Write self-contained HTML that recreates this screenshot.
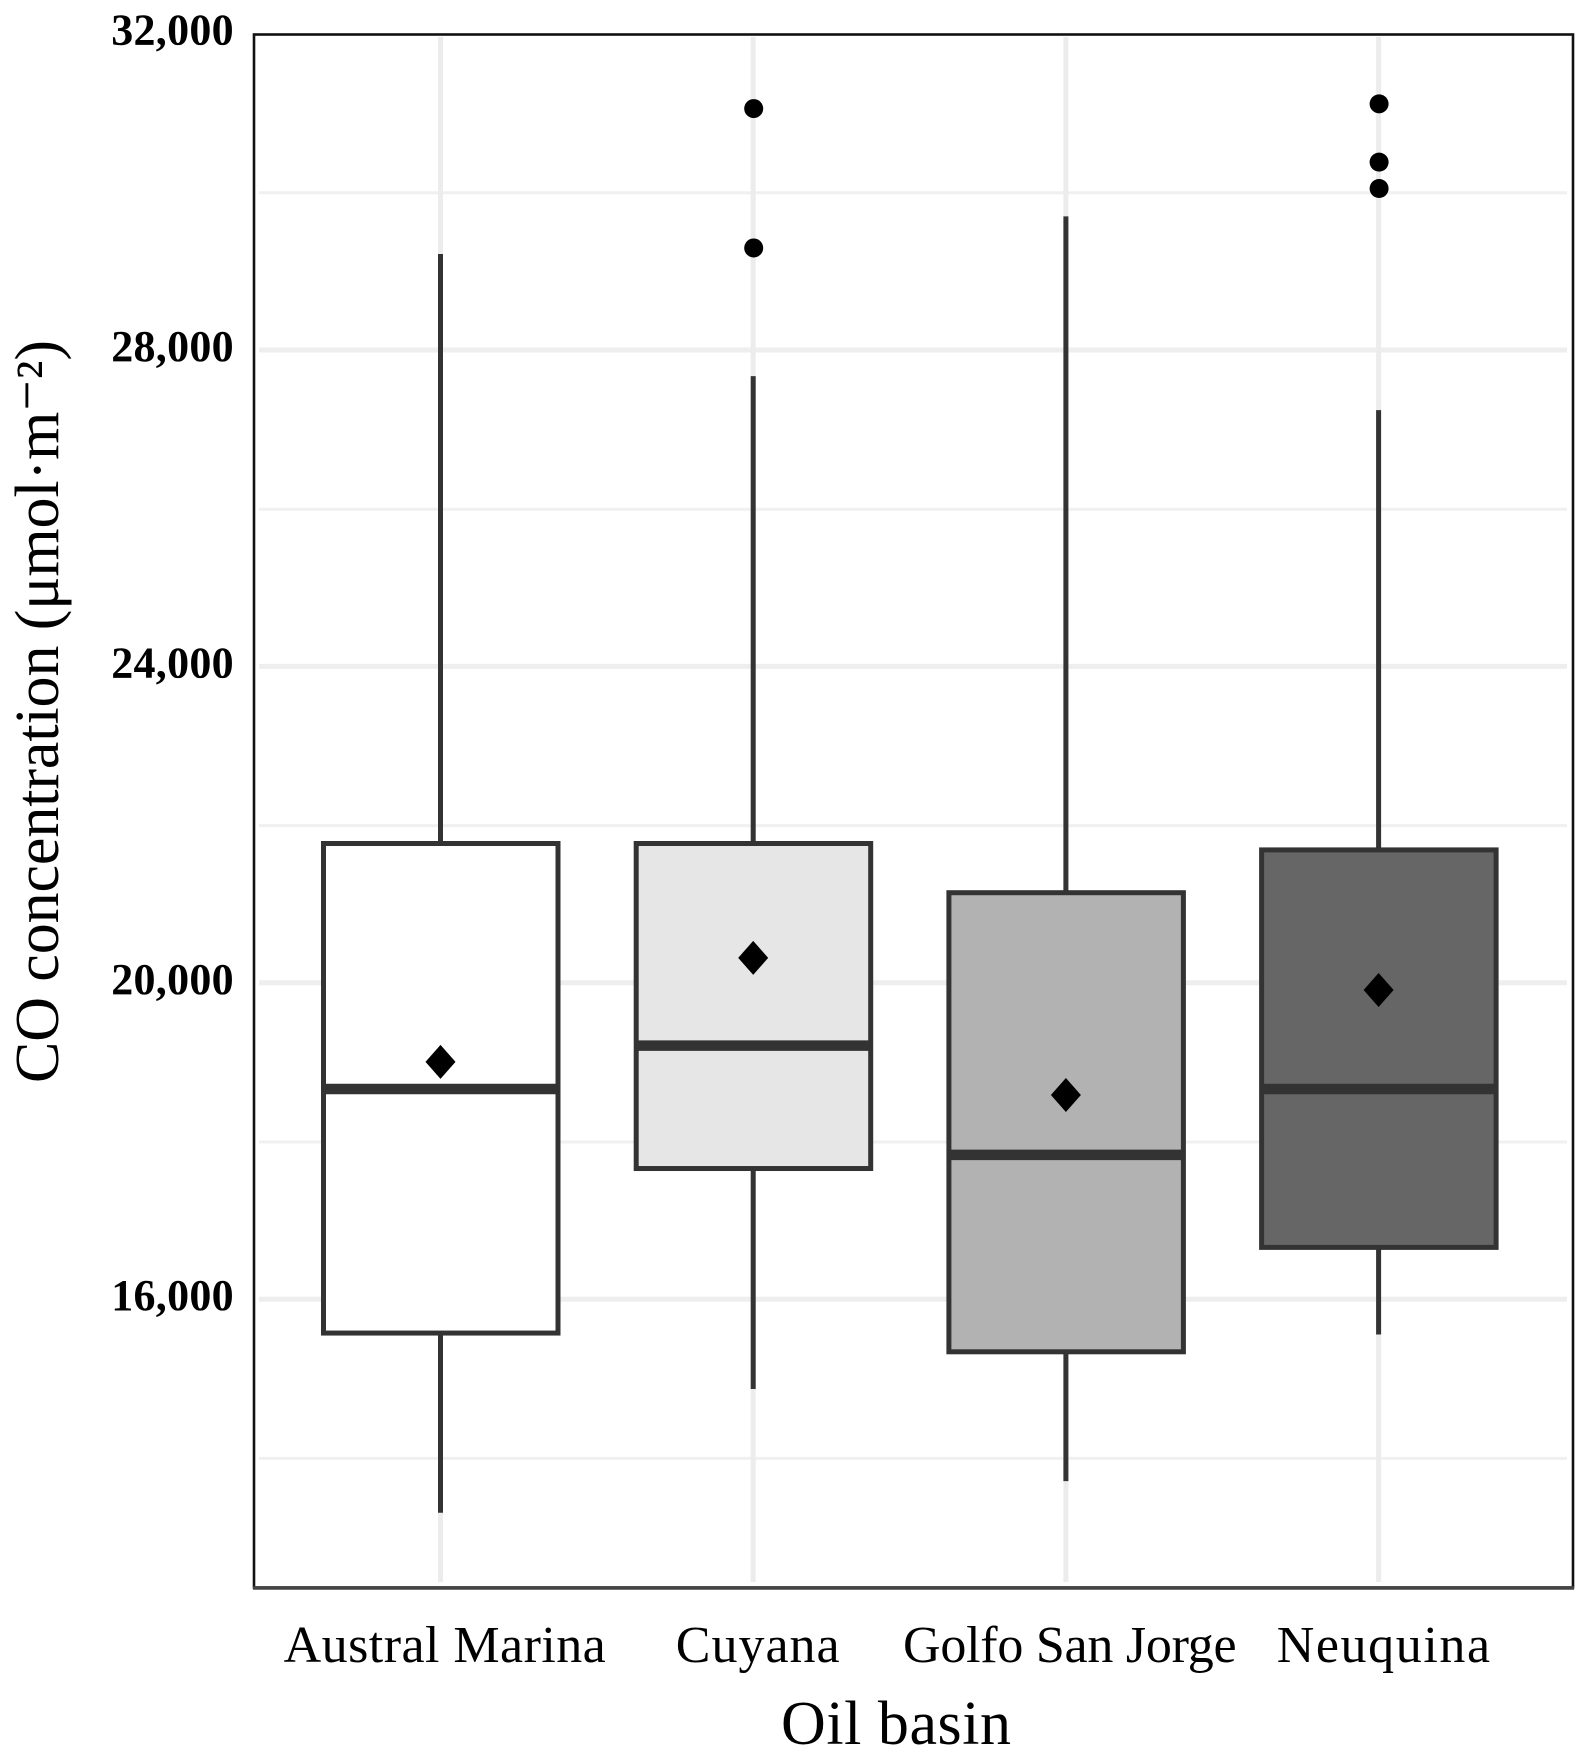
<!DOCTYPE html>
<html lang="en">
<head>
<meta charset="utf-8">
<title>CO concentration by oil basin</title>
<style>
html,body{margin:0;padding:0;background:#fff;width:1588px;height:1759px;overflow:hidden}
svg{display:block}
text{font-family:"Liberation Serif",serif;fill:#000}
</style>
</head>
<body>
<svg id="chart" width="1588" height="1759" viewBox="0 0 1588 1759" xmlns="http://www.w3.org/2000/svg">
<rect x="0" y="0" width="1588" height="1759" fill="#fff"/>
<g id="grid"></g>
<g id="boxes"></g>
<rect x="254" y="34.5" width="1319" height="1553" fill="none" stroke="#111" stroke-width="2.6"/>
<line x1="253" x2="1574" y1="1588" y2="1588" stroke="#444" stroke-width="3.6"/>
<g id="ticks"></g>
<g id="cats"></g>
<text x="896" y="1744" font-size="62" text-anchor="middle" textLength="230" lengthAdjust="spacing">Oil basin</text>
<text transform="translate(58,1083) rotate(-90)" x="0" y="0" font-size="62" textLength="743" lengthAdjust="spacing">CO concentration (μmol·m⁻²)</text>
</svg>
<script>
const categories = ["Austral Marina", "Cuyana", "Golfo San Jorge", "Neuquina"];
const whiskerHigh = [29214, 27670, 29690, 27240];
const q3Values = [21761, 21761, 21139, 21680];
const medians = [18657, 19205, 17825, 18657];
const q1Values = [15572, 17652, 15335, 16655];
const whiskerLow = [13300, 14865, 13700, 15554];
const means = [19000, 20315, 18582, 19909];
const outliers = [[], [31052, 29290], [], [31112, 30375, 30042]];
const fills = ["#ffffff", "#e6e6e6", "#b2b2b2", "#666666"];
const majorTicks = [16000, 20000, 24000, 28000, 32000];
const minorTicks = [14000, 18000, 22000, 26000, 30000];
const tickLabels = ["16,000", "20,000", "24,000", "28,000", "32,000"];
const labelTracking = [0.45, 1.0, -0.25, 1.6];

const NS = "http://www.w3.org/2000/svg";
function yScale(v) { return 350 + (28000 - v) * 0.0791; }
function xScale(i) { return 440.5 + i * 312.7; }
function make(parent, tag, attrs) {
  const el = document.createElementNS(NS, tag);
  for (const k in attrs) el.setAttribute(k, attrs[k]);
  parent.appendChild(el);
  return el;
}
const gridG = document.getElementById("grid");
const boxG = document.getElementById("boxes");
const tickG = document.getElementById("ticks");
const catG = document.getElementById("cats");

minorTicks.forEach(function (v) {
  const l = make(gridG, "line", {x1: 259, x2: 1567, y1: yScale(v) + 1, y2: yScale(v) + 1, stroke: "#f0f0f0", "stroke-width": 3});
  
  
});
majorTicks.forEach(function (v, i) {
  if (v < 32000) {
    const l = make(gridG, "line", {x1: 259, x2: 1567, y1: yScale(v), y2: yScale(v), stroke: "#eeeeee", "stroke-width": 5});
    
    
  }
  const t = make(tickG, "text", {x: 234, y: yScale(v) + 11, "text-anchor": "end", "font-size": 44, "font-weight": "bold", "letter-spacing": 0.3});
  t.textContent = tickLabels[i];
  
  
});
categories.forEach(function (c, i) {
  const x = xScale(i);
  const g = make(gridG, "line", {x1: x, x2: x, y1: 37, y2: 1582, stroke: "#ececec", "stroke-width": 5});
  
  

  const wh = make(boxG, "line", {x1: x, x2: x, y1: yScale(whiskerHigh[i]), y2: yScale(q3Values[i]), stroke: "#333", "stroke-width": 5});
  
  
  const wl = make(boxG, "line", {x1: x, x2: x, y1: yScale(q1Values[i]), y2: yScale(whiskerLow[i]), stroke: "#333", "stroke-width": 5});
  
  

  const top = yScale(q3Values[i]);
  const bot = yScale(q1Values[i]);
  const b = make(boxG, "rect", {x: x - 117, y: top, width: 234.5, height: bot - top, fill: fills[i], stroke: "#333", "stroke-width": 5});
  
  

  const m = make(boxG, "line", {x1: x - 117, x2: x + 117.5, y1: yScale(medians[i]), y2: yScale(medians[i]), stroke: "#333", "stroke-width": 10.5});
  
  

  const my = yScale(means[i]);
  const d = make(boxG, "polygon", {points: (x - 15) + "," + my + " " + x + "," + (my - 17) + " " + (x + 15) + "," + my + " " + x + "," + (my + 17), fill: "#000"});
  
  

  outliers[i].forEach(function (o) {
    const p = make(boxG, "circle", {cx: x + 0.5, cy: yScale(o), r: 9.5, fill: "#000"});
    
    
  });

  const t = make(catG, "text", {x: x + 4 + labelTracking[i], y: 1662, "text-anchor": "middle", "font-size": 52, "letter-spacing": labelTracking[i]});
  t.textContent = c;
  
  
});
</script>
</body>
</html>
